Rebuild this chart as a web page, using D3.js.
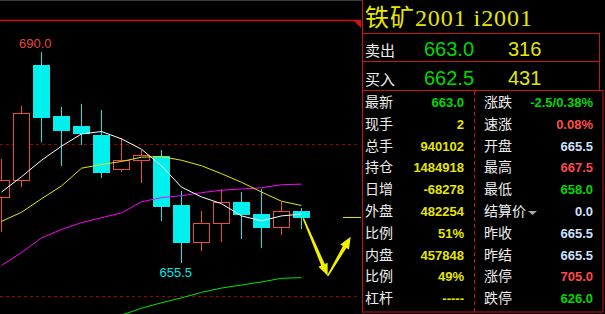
<!DOCTYPE html>
<html>
<head>
<meta charset="utf-8">
<script src="https://cdn.jsdelivr.net/npm/d3@7"></script>
<style>
  html, body { margin: 0; padding: 0; background: #000; }
  svg { display: block; }
</style>
</head>
<body>
<script>
var width = 605, height = 314;

// candles, oldest first
var opens  = [666.3, 669.1, 687.9, 679.5, 677.9, 676.4, 670.9, 672.4, 673.0, 665.0, 659.0, 662.0, 665.4, 663.5, 661.4, 664.0];
var highs  = [672.5, 681.1, 690.0, 681.0, 681.5, 680.5, 675.9, 674.0, 674.0, 667.2, 664.0, 667.6, 667.1, 667.6, 665.5, 664.5];
var lows   = [660.5, 668.0, 675.3, 671.4, 674.8, 669.4, 670.4, 668.5, 662.4, 655.5, 657.5, 659.0, 659.4, 658.0, 660.0, 661.0];
var closes = [669.1, 680.0, 679.4, 677.2, 676.8, 670.4, 672.4, 673.1, 664.8, 659.0, 662.0, 665.4, 663.5, 661.4, 664.0, 663.0];

// moving averages
var ma5  = [667.1, 669.6, 672.3, 674.6, 676.6, 677.0, 675.8, 674.1, 671.4, 667.9, 666.3, 665.2, 663.2, 662.4, 663.2, 663.5];
var ma10 = [662.3, 663.8, 666.0, 668.1, 671.0, 671.6, 672.1, 672.8, 672.9, 672.3, 671.4, 670.1, 668.7, 667.1, 665.6, 664.9];
var ma20 = [655.1, 657.2, 659.6, 661.0, 662.1, 662.9, 663.7, 665.5, 666.2, 666.5, 667.0, 667.4, 667.6, 667.8, 668.3, 668.4];
var ma60 = [null, null, null, null, null, null, 647.0, 648.1, 649.0, 649.8, 650.7, 651.4, 651.9, 652.4, 653.0, 653.1];

var lastPrice = 663.0;
var guideLines = [695.2, 675.0, 650.1];   // solid top line, then dashed ones

// hand drawn arrow, in (bar index, price)
var arrowPts = [[15.09, 662.8], [16.31, 653.4], [17.46, 659.8]];

// quote panel
var title = "铁矿2001 i2001";
var bookLabels = ["卖出", "买入"];
var bookPrices = ["663.0", "662.5"];
var bookVols = ["316", "431"];

var leftLabels = ["最新", "现手", "总手", "持仓", "日增", "外盘", "比例", "内盘", "比例", "杠杆"];
var leftValues = ["663.0", "2", "940102", "1484918", "-68278", "482254", "51%", "457848", "49%", "-----"];
var leftTones  = ["down", "vol", "vol", "vol", "vol", "vol", "vol", "vol", "vol", "vol"];

var rightLabels = ["涨跌", "速涨", "开盘", "最高", "最低", "结算价", "昨收", "昨结", "涨停", "跌停"];
var rightValues = ["-2.5/0.38%", "0.08%", "665.5", "667.5", "658.0", "0.0", "665.5", "665.5", "705.0", "626.0"];
var rightTones  = ["down", "up", "flat", "up", "down", "flat", "flat", "flat", "up", "down"];

var toneColor = { up: "#ff4a4a", down: "#00d800", flat: "#cfe2ff", vol: "#e6e600" };

var svg = d3.select("body").append("svg")
    .attr("width", width)
    .attr("height", height);

svg.append("rect").attr("width", width).attr("height", height).attr("fill", "#000");

var x = d3.scaleLinear().domain([0, 15]).range([1.5, 301.5]);
var y = d3.scaleLinear().domain([690, 655.5]).range([52, 263]);

var chart = svg.append("g");
chart.append("rect").attr("x", 0).attr("y", 0).attr("width", 362).attr("height", 1).attr("fill", "#3c3c3c");

// guide lines
chart.append("line")
    .attr("x1", 0).attr("x2", 361)
    .attr("y1", Math.round(y(guideLines[0])) + 0.5).attr("y2", Math.round(y(guideLines[0])) + 0.5)
    .attr("stroke", "#c81414").attr("stroke-width", 1.5);
chart.append("path")
    .attr("d", function () {
        var yy = Math.round(y(guideLines[0]));
        return "M353," + yy + "L361," + yy + "L361," + (yy + 8) + "Z";
    })
    .attr("fill", "#c81414");

chart.selectAll(".dash")
    .data(guideLines.slice(1))
    .enter().append("line")
    .attr("x1", 0).attr("x2", 360)
    .attr("y1", function (d) { return Math.round(y(d)) + 0.5; })
    .attr("y2", function (d) { return Math.round(y(d)) + 0.5; })
    .attr("stroke", "#a00000")
    .attr("stroke-dasharray", "3,3");

// moving averages
function maLine(values, color) {
    var line = d3.line()
        .defined(function (d) { return d != null; })
        .x(function (d, i) { return x(i); })
        .y(function (d) { return y(d); });
    chart.append("path")
        .datum(values)
        .attr("d", line)
        .attr("fill", "none")
        .attr("stroke", color)
        .attr("stroke-width", 1);
}

// candles
var candles = chart.selectAll(".candle")
    .data(closes)
    .enter().append("g");

candles.append("line")
    .attr("x1", function (d, i) { return Math.floor(x(i)) + 0.5; })
    .attr("x2", function (d, i) { return Math.floor(x(i)) + 0.5; })
    .attr("y1", function (d, i) { return Math.round(y(highs[i])); })
    .attr("y2", function (d, i) { return Math.round(y(lows[i])); })
    .attr("stroke", function (d, i) { return d >= opens[i] ? "#f04848" : "#00f0f0"; });

candles.append("rect")
    .attr("x", function (d, i) { return d >= opens[i] ? x(i) - 8 : x(i) - 8.5; })
    .attr("width", function (d, i) { return d >= opens[i] ? 16 : 17; })
    .attr("y", function (d, i) {
        var t = Math.round(y(Math.max(d, opens[i])));
        return d >= opens[i] ? t + 0.5 : t;
    })
    .attr("height", function (d, i) {
        var t = Math.round(y(Math.max(d, opens[i]))), b = Math.round(y(Math.min(d, opens[i])));
        return Math.max(1, d >= opens[i] ? b - t : b - t + 1);
    })
    .attr("fill", function (d, i) { return d >= opens[i] ? "#000" : "#00f0f0"; })
    .attr("stroke", function (d, i) { return d >= opens[i] ? "#f04848" : "none"; });

maLine(ma20, "#ff00ff");
maLine(ma10, "#e6e600");
maLine(ma5, "#ffffff");
maLine(ma60, "#00e600");

// high / low labels
var hi = d3.maxIndex(highs), lo = d3.minIndex(lows);
chart.append("text")
    .attr("x", x(hi) + 10).attr("y", y(highs[hi]) - 4)
    .attr("text-anchor", "end")
    .attr("fill", "#e84444")
    .style("font", "13px 'Liberation Sans', Arial, sans-serif")
    .text(d3.format(".1f")(highs[hi]));
chart.append("text")
    .attr("x", x(lo) + 10.5).attr("y", y(lows[lo]) + 14)
    .attr("text-anchor", "end")
    .attr("fill", "#00e8e8")
    .style("font", "13px 'Liberation Sans', Arial, sans-serif")
    .text(d3.format(".1f")(lows[lo]));

// last price tick
chart.append("line")
    .attr("x1", 343).attr("x2", 361)
    .attr("y1", Math.round(y(lastPrice)) + 0.5).attr("y2", Math.round(y(lastPrice)) + 0.5)
    .attr("stroke", "#e6e600");

// tapered arrows
function arrow(p0, p1, w0, w1, headLen, headW) {
    var x0 = x(p0[0]), y0 = y(p0[1]), x1 = x(p1[0]), y1 = y(p1[1]);
    var dx = x1 - x0, dy = y1 - y0, len = Math.sqrt(dx * dx + dy * dy);
    var ux = dx / len, uy = dy / len, nx = -uy, ny = ux;
    var bx = x1 - ux * headLen, by = y1 - uy * headLen;
    var pts = [
        [x0 + nx * w0 / 2, y0 + ny * w0 / 2],
        [bx + nx * w1 / 2, by + ny * w1 / 2],
        [bx + nx * headW / 2, by + ny * headW / 2],
        [x1, y1],
        [bx - nx * headW / 2, by - ny * headW / 2],
        [bx - nx * w1 / 2, by - ny * w1 / 2],
        [x0 - nx * w0 / 2, y0 - ny * w0 / 2]
    ];
    chart.append("path")
        .attr("d", "M" + pts.join("L") + "Z")
        .attr("fill", "#f0f000");
}
arrow(arrowPts[0], arrowPts[1], 1.5, 4, 12, 10);
arrow(arrowPts[1], arrowPts[2], 1.5, 4, 12, 10);

// quote panel
var panel = svg.append("g");
var red = "#c81414";

panel.append("line").attr("x1", 362.5).attr("x2", 362.5).attr("y1", 0).attr("y2", 313)
    .attr("stroke", red);
[33.5, 61.5].forEach(function (yy) {
    panel.append("line").attr("x1", 362).attr("x2", 600).attr("y1", yy).attr("y2", yy).attr("stroke", red);
});
panel.append("line").attr("x1", 599.5).attr("x2", 599.5).attr("y1", 33).attr("y2", 90).attr("stroke", red);
panel.append("rect").attr("x", 362.5).attr("y", 90.5).attr("width", 240.5).attr("height", 221.5)
    .attr("fill", "none").attr("stroke", red);
panel.append("line").attr("x1", 474.5).attr("x2", 474.5).attr("y1", 91).attr("y2", 312)
    .attr("stroke", red).attr("stroke-dasharray", "4,3");

panel.append("text")
    .attr("x", 365).attr("y", 26)
    .attr("fill", "#e6e600")
    .attr("textLength", 167).attr("lengthAdjust", "spacing")
    .style("font", "24px 'Liberation Serif', 'Noto Sans CJK SC', serif")
    .text(title);

var cjk = "14px 'Noto Sans CJK SC', sans-serif";
var num = "bold 13px 'Liberation Sans', Arial, sans-serif";

bookLabels.forEach(function (lab, k) {
    var by = 56 + k * 29;
    panel.append("text").attr("x", 365).attr("y", by).attr("fill", "#eeeeee")
        .style("font", "15px 'Noto Sans CJK SC', sans-serif").text(lab);
    panel.append("text").attr("x", 424).attr("y", by).attr("fill", toneColor.down)
        .style("font", "20px 'Liberation Sans', Arial, sans-serif").text(bookPrices[k]);
    panel.append("text").attr("x", 508).attr("y", by).attr("fill", toneColor.vol)
        .style("font", "20px 'Liberation Sans', Arial, sans-serif").text(bookVols[k]);
});

var rowY = d3.scaleLinear().domain([0, 9]).range([107, 303.2]);

leftLabels.forEach(function (lab, k) {
    panel.append("text").attr("x", 365).attr("y", rowY(k)).attr("fill", "#eeeeee")
        .style("font", cjk).text(lab);
    panel.append("text").attr("x", 464).attr("y", rowY(k)).attr("text-anchor", "end")
        .attr("fill", toneColor[leftTones[k]]).style("font", num).text(leftValues[k]);
});
rightLabels.forEach(function (lab, k) {
    panel.append("text").attr("x", 484).attr("y", rowY(k)).attr("fill", "#eeeeee")
        .style("font", cjk).text(lab);
    panel.append("text").attr("x", 593).attr("y", rowY(k)).attr("text-anchor", "end")
        .attr("fill", toneColor[rightTones[k]]).style("font", num).text(rightValues[k]);
});
// dropdown mark next to the settlement label
var sIdx = rightLabels.indexOf("结算价");
panel.append("path")
    .attr("d", "M528," + (rowY(sIdx) - 5) + "L537," + (rowY(sIdx) - 5) + "L532.5," + (rowY(sIdx) - 1) + "Z")
    .attr("fill", "#a8a8a8");
</script>
</body>
</html>
